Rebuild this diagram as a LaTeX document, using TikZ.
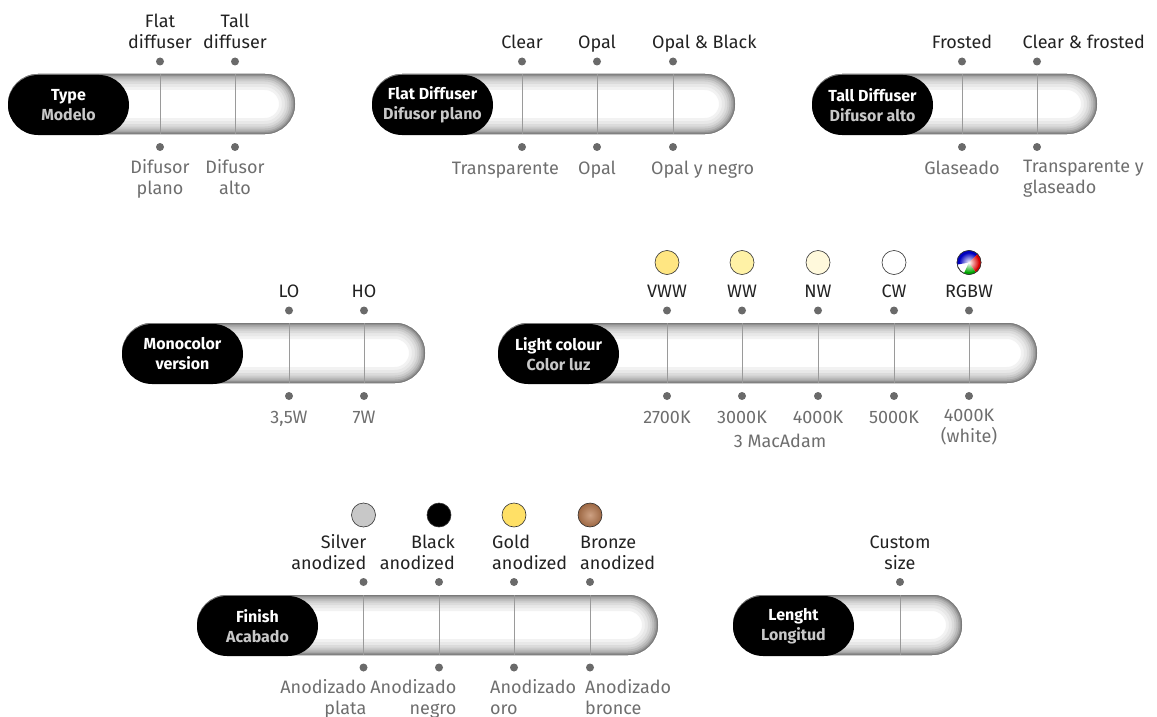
\documentclass[tikz,border=0pt]{standalone}
\usepackage{fontspec}
\setmainfont{Fira Sans}
\usetikzlibrary{positioning,calc,fadings}

\definecolor{toptext}{HTML}{222222}
\definecolor{bottext}{HTML}{6E6E6E}
\definecolor{subtext}{HTML}{C8C8C8}
\definecolor{dotgray}{HTML}{6A6A6A}
\definecolor{rulegray}{HTML}{9A9A9A}
\definecolor{vww}{HTML}{FFE682}
\definecolor{ww}{HTML}{FFF2A6}
\definecolor{nw}{HTML}{FFF9DC}
\definecolor{silver}{HTML}{C8C8C8}
\definecolor{gold}{HTML}{FFE066}
\definecolor{bronze}{HTML}{B8794E}

\tikzfading[name=softcentre, inner color=transparent!0, outer color=transparent!100]

% tube body with a soft inner shadow: left x, right x, top y
\newcommand{\pillbody}[3]{%
  \begin{scope}
    \clip[rounded corners=30pt] (#1,#3) rectangle (#2,#3+60);
    \fill[white] (#1,#3) rectangle (#2,#3+60);
    \foreach \w/\c in {32/5,26/9,20/14,15/20,11/27,7/35,4/44,1.5/52}
      \draw[line width=\w pt, black!\c, rounded corners=30pt] (#1,#3) rectangle (#2,#3+60);
  \end{scope}}

\begin{document}
\begin{tikzpicture}[x=1pt, y=-1pt,
    badge/.style={fill=black, rounded corners=30pt,
        minimum width=121pt, minimum height=60pt, inner sep=0pt,
        align=center, text=white, font=\fontsize{16}{20}\selectfont\bfseries},
    dot/.style={circle, fill=dotgray, minimum size=8pt, inner sep=0pt},
    divider/.style={draw=rulegray, line width=0.8pt},
    toplbl/.style={inner sep=0pt, align=center, text=toptext,
        font=\fontsize{18}{21}\selectfont,
        execute at begin node=\strut, execute at end node=\strut},
    botlbl/.style={toplbl, text=bottext},
    swatch/.style={circle, draw=black!80, line width=0.6pt,
        minimum size=24pt, inner sep=0pt, fill=#1}
]
    \useasboundingbox (0,0) rectangle (1157,717);

    % Type
    \pillbody{8}{295}{74}
    \node[badge] (type) at (68.5,105) {Type\\\textcolor{subtext}{Modelo}};
    \foreach \x [count=\i] in {160,235} {
        \node[dot] (type-u\i) at (\x,61.5) {};
        \node[dot] (type-d\i) at (\x,147) {};
        \draw[divider] (type-u\i |- 0,74) -- (type-u\i |- 0,134);
    }
    \node[toplbl, above=2pt of type-u1] (type-t1) {Flat\\diffuser};
    \node[toplbl, above=2pt of type-u2] (type-t2) {Tall\\diffuser};
    \node[botlbl, below=8.5pt of type-d1] (type-b1) {Difusor\\plano};
    \node[botlbl, below=8.5pt of type-d2] (type-b2) {Difusor\\alto};

    % Flat diffuser
    \pillbody{372}{735}{74}
    \node[badge] (flat) at (432.5,105) {Flat Diffuser\\\textcolor{subtext}{Difusor plano}};
    \foreach \x [count=\i] in {522,597,673} {
        \node[dot] (flat-u\i) at (\x,61.5) {};
        \node[dot] (flat-d\i) at (\x,147) {};
        \draw[divider] (flat-u\i |- 0,74) -- (flat-u\i |- 0,134);
    }
    \node[toplbl, above=2pt of flat-u1] (flat-t1) {Clear};
    \node[toplbl, above=2pt of flat-u2] (flat-t2) {Opal};
    \node[toplbl, anchor=south west] (flat-t3)
        at ($(flat-u3.north)+(-21,-2)$) {Opal \& Black};
    \node[botlbl, anchor=north east] (flat-b1)
        at ($(flat-d1.south)+(37,8.5)$) {Transparente};
    \node[botlbl, below=8.5pt of flat-d2] (flat-b2) {Opal};
    \node[botlbl, anchor=north west] (flat-b3)
        at ($(flat-d3.south)+(-22,8.5)$) {Opal y negro};

    % Tall diffuser
    \pillbody{812}{1097}{74}
    \node[badge] (tall) at (872.5,105) {Tall Diffuser\\\textcolor{subtext}{Difusor alto}};
    \foreach \x [count=\i] in {962,1037} {
        \node[dot] (tall-u\i) at (\x,61.5) {};
        \node[dot] (tall-d\i) at (\x,147) {};
        \draw[divider] (tall-u\i |- 0,74) -- (tall-u\i |- 0,134);
    }
    \node[toplbl, above=2pt of tall-u1] (tall-t1) {Frosted};
    \node[toplbl, anchor=south west] (tall-t2)
        at ($(tall-u2.north)+(-14.5,-2)$) {Clear \& frosted};
    \node[botlbl, below=8.5pt of tall-d1] (tall-b1) {Glaseado};
    \node[botlbl, align=left, anchor=north west] (tall-b2)
        at ($(tall-d2.south)+(-14,8.5)$) {Transparente y\\glaseado};

    % Monocolor version
    \pillbody{122}{425}{323}
    \node[badge] (mono) at (182.5,354) {Monocolor\\version};
    \foreach \x [count=\i] in {289,364} {
        \node[dot] (mono-u\i) at (\x,310.5) {};
        \node[dot] (mono-d\i) at (\x,396) {};
        \draw[divider] (mono-u\i |- 0,323) -- (mono-u\i |- 0,383);
    }
    \node[toplbl, above=2pt of mono-u1] (mono-t1) {LO};
    \node[toplbl, above=2pt of mono-u2] (mono-t2) {HO};
    \node[botlbl, below=8.5pt of mono-d1] (mono-b1) {3,5W};
    \node[botlbl, below=8.5pt of mono-d2] (mono-b2) {7W};

    % Light colour
    \pillbody{498}{1037}{323}
    \node[badge] (light) at (558.5,354) {Light colour\\\textcolor{subtext}{Color luz}};
    \foreach \x [count=\i] in {667,742,818,894,969} {
        \node[dot] (light-u\i) at (\x,310.5) {};
        \node[dot] (light-d\i) at (\x,396) {};
        \draw[divider] (light-u\i |- 0,323) -- (light-u\i |- 0,383);
    }
    \node[swatch=vww] (light-s1) at (667,262.5) {};
    \node[swatch=ww]  (light-s2) at (742,262.5) {};
    \node[swatch=nw]  (light-s3) at (818,262.5) {};
    \node[swatch=white] (light-s4) at (894,262.5) {};
    \node[swatch=white] (light-s5) at (969,262.5) {};
    \begin{scope}[shift={(light-s5.center)}, yscale=-1]
        \fill[blue!75!black] (0,0) -- (45:12) arc (45:190:12) -- cycle;
        \fill[green!65!black] (0,0) -- (245:12) arc (245:305:12) -- cycle;
        \fill[red!85!black] (0,0) -- (305:12) arc (305:405:12) -- cycle;
        \fill[white, path fading=softcentre] (0,0) circle (10);
        \draw[black!80, line width=0.6pt] (0,0) circle (12);
    \end{scope}
    \node[toplbl, above=2pt of light-u1] (light-t1) {VWW};
    \node[toplbl, above=2pt of light-u2] (light-t2) {WW};
    \node[toplbl, above=2pt of light-u3] (light-t3) {NW};
    \node[toplbl, above=2pt of light-u4] (light-t4) {CW};
    \node[toplbl, above=2pt of light-u5] (light-t5) {RGBW};
    \node[botlbl, below=8.5pt of light-d1] (light-b1) {2700K};
    \node[botlbl, below=8.5pt of light-d2] (light-b2) {3000K};
    \node[botlbl, below=8.5pt of light-d3] (light-b3) {4000K};
    \node[botlbl, below=8.5pt of light-d4] (light-b4) {5000K};
    \node[botlbl, below=8.5pt of light-d5] (light-b5) {4000K\\(white)};
    \node[botlbl, anchor=north, yshift=-2pt] (mac)
        at ($(light-b2.south)!0.5!(light-b3.south)$) {3 MacAdam};

    % Finish
    \pillbody{197}{658}{595}
    \node[badge] (fin) at (257.5,626) {Finish\\\textcolor{subtext}{Acabado}};
    \foreach \x [count=\i] in {363.5,439,514,590} {
        \node[dot] (fin-u\i) at (\x,582) {};
        \node[dot] (fin-d\i) at (\x,667.5) {};
        \draw[divider] (fin-u\i |- 0,595) -- (fin-u\i |- 0,655);
    }
    \node[swatch=silver] (fin-s1) at (363.5,515) {};
    \node[swatch=black]  (fin-s2) at (439,515) {};
    \node[swatch=gold]   (fin-s3) at (514,515) {};
    \node[swatch=bronze, inner color=bronze!70!white, outer color=bronze!85!black]
        (fin-s4) at (590,515) {};
    \node[toplbl, align=right, anchor=south east] (fin-t1)
        at ($(fin-u1.north)+(3,-2)$) {Silver\\anodized};
    \node[toplbl, align=right, anchor=south east] (fin-t2)
        at ($(fin-u2.north)+(16,-2)$) {Black\\anodized};
    \node[toplbl, align=left, anchor=south west] (fin-t3)
        at ($(fin-u3.north)+(-22,-2)$) {Gold\\anodized};
    \node[toplbl, align=left, anchor=south west] (fin-t4)
        at ($(fin-u4.north)+(-10,-2)$) {Bronze\\anodized};
    \node[botlbl, align=right, anchor=north east] (fin-b1)
        at ($(fin-d1.south)+(3,7.5)$) {Anodizado\\plata};
    \node[botlbl, align=right, anchor=north east] (fin-b2)
        at ($(fin-d2.south)+(17.5,7.5)$) {Anodizado\\negro};
    \node[botlbl, align=left, anchor=north west] (fin-b3)
        at ($(fin-d3.south)+(-24,7.5)$) {Anodizado\\oro};
    \node[botlbl, align=left, anchor=north west] (fin-b4)
        at ($(fin-d4.south)+(-5,7.5)$) {Anodizado\\bronce};

    % Lenght
    \pillbody{733}{962}{595}
    \node[badge] (len) at (793.5,626) {Lenght\\\textcolor{subtext}{Longitud}};
    \node[dot] (len-u1) at (900,582) {};
    \draw[divider] (len-u1 |- 0,595) -- (len-u1 |- 0,655);
    \node[toplbl, above=2pt of len-u1] (len-t1) {Custom\\size};
\end{tikzpicture}
\end{document}
